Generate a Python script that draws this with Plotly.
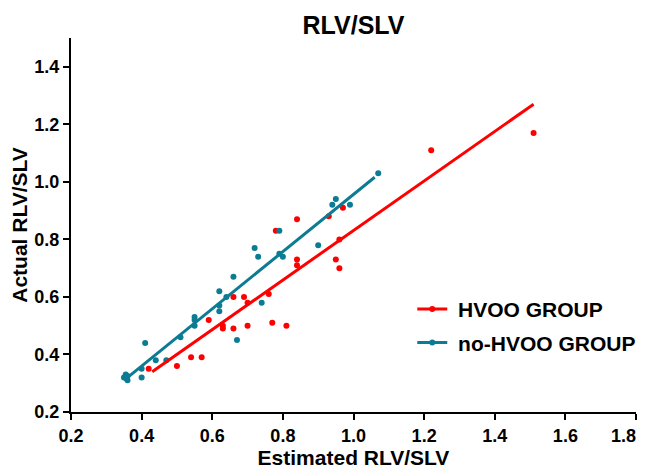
import plotly.graph_objects as go

# HVOO GROUP (red)
hvoo_x = [0.42, 0.50, 0.54, 0.57, 0.59, 0.63, 0.63, 0.66, 0.66, 0.69, 0.70, 0.70,
          0.76, 0.77, 0.78, 0.81, 0.84, 0.84, 0.84, 0.93, 0.95, 0.96, 0.96, 0.97,
          1.22, 1.51]
hvoo_y = [0.35, 0.36, 0.39, 0.39, 0.52, 0.50, 0.49, 0.60, 0.49, 0.60, 0.58, 0.50,
          0.61, 0.51, 0.83, 0.50, 0.87, 0.73, 0.71, 0.88, 0.73, 0.70, 0.80, 0.91,
          1.11, 1.17]
hvoo_fit_x = [0.43, 1.51]
hvoo_fit_y = [0.34, 1.27]

# no-HVOO GROUP (teal)
nohvoo_x = [0.35, 0.355, 0.36, 0.36, 0.40, 0.40, 0.41, 0.44, 0.47, 0.51, 0.55, 0.55,
            0.55, 0.62, 0.62, 0.62, 0.64, 0.66, 0.67, 0.72, 0.73, 0.74, 0.79, 0.79,
            0.80, 0.90, 0.94, 0.95, 0.99, 1.07]
nohvoo_y = [0.32, 0.33, 0.31, 0.325, 0.32, 0.35, 0.44, 0.38, 0.38, 0.46, 0.53, 0.52,
            0.50, 0.62, 0.57, 0.55, 0.60, 0.67, 0.45, 0.77, 0.74, 0.58, 0.83, 0.75,
            0.74, 0.78, 0.92, 0.94, 0.92, 1.03]
nohvoo_fit_x = [0.35, 1.06]
nohvoo_fit_y = [0.31, 1.016]

x_ticks = [0.2, 0.4, 0.6, 0.8, 1.0, 1.2, 1.4, 1.6, 1.8]
x_ticklabels = ["0.2", "0.4", "0.6", "0.8", "1.0", "1.2", "1.4", "1.6", "1.8"]
y_ticks = [0.2, 0.4, 0.6, 0.8, 1.0, 1.2, 1.4]
y_ticklabels = ["0.2", "0.4", "0.6", "0.8", "1.0", "1.2", "1.4"]

RED = "#FF0000"
TEAL = "#0B7C93"
FONT = "Liberation Sans, Arial, sans-serif"

# the page body adds an 8px margin, so the figure is 8px smaller and shifted
PAGE_OFF = 8
W, H = 646 - PAGE_OFF, 471 - PAGE_OFF

# last x label is nudged left (trailing spaces) so it stays inside the page
x_text = x_ticklabels[:-1] + [x_ticklabels[-1] + "\u00a0" * 5]

fig = go.Figure()
fig.add_trace(go.Scatter(x=hvoo_x, y=hvoo_y, mode="markers",
                         marker=dict(color=RED, size=6), showlegend=False, cliponaxis=False))
fig.add_trace(go.Scatter(x=nohvoo_x, y=nohvoo_y, mode="markers",
                         marker=dict(color=TEAL, size=6), showlegend=False, cliponaxis=False))
fig.add_trace(go.Scatter(x=hvoo_fit_x, y=hvoo_fit_y, mode="lines",
                         line=dict(color=RED, width=3), showlegend=False))
fig.add_trace(go.Scatter(x=nohvoo_fit_x, y=nohvoo_fit_y, mode="lines",
                         line=dict(color=TEAL, width=3), showlegend=False))
# legend entries
fig.add_trace(go.Scatter(x=[None], y=[None], mode="lines+markers",
                         name="\u00a0HVOO GROUP", legendgroup="a",
                         line=dict(color=RED, width=3), marker=dict(color=RED, size=6)))
fig.add_trace(go.Scatter(x=[None], y=[None], mode="lines+markers",
                         name="\u00a0no-HVOO GROUP", legendgroup="b",
                         line=dict(color=TEAL, width=3), marker=dict(color=TEAL, size=6)))

fig.update_layout(
    width=W, height=H,
    margin=dict(l=71 - PAGE_OFF, r=10, t=38 - PAGE_OFF, b=59, autoexpand=False),
    paper_bgcolor="white", plot_bgcolor="white",
    font=dict(family=FONT, color="black"),
    title=dict(text="<b>RLV/SLV</b>", x=0.5, xref="paper", xanchor="center",
               y=1 - (25 - PAGE_OFF) / H, yref="container", yanchor="middle",
               font=dict(size=25, family=FONT, color="black")),
    legend=dict(x=0.604, y=0.329, xanchor="left", yanchor="top",
                font=dict(size=21, family=FONT, color="black", weight="bold"),
                tracegroupgap=3, bgcolor="rgba(0,0,0,0)", itemwidth=30),
    xaxis=dict(range=[0.2, 1.8], tickvals=x_ticks, ticktext=x_text,
               showgrid=False, zeroline=False, showline=True,
               linecolor="black", linewidth=2, automargin=False,
               ticklabeloverflow="allow",
               ticks="outside", ticklen=6, tickwidth=2, tickcolor="black",
               tickfont=dict(size=18, family=FONT, weight="bold"),
               title=dict(text="<b>Estimated RLV/SLV</b>", standoff=5,
                          font=dict(size=21, family=FONT))),
    yaxis=dict(range=[0.2, 1.5], tickvals=y_ticks, ticktext=y_ticklabels,
               showgrid=False, zeroline=False, showline=True,
               linecolor="black", linewidth=2, automargin=False,
               ticks="outside", ticklen=6, tickwidth=2, tickcolor="black",
               tickfont=dict(size=18, family=FONT, weight="bold"),
               title=dict(text="<b>Actual RLV/SLV</b>", standoff=9,
                          font=dict(size=21, family=FONT))),
)

fig.write_html("out.html")
